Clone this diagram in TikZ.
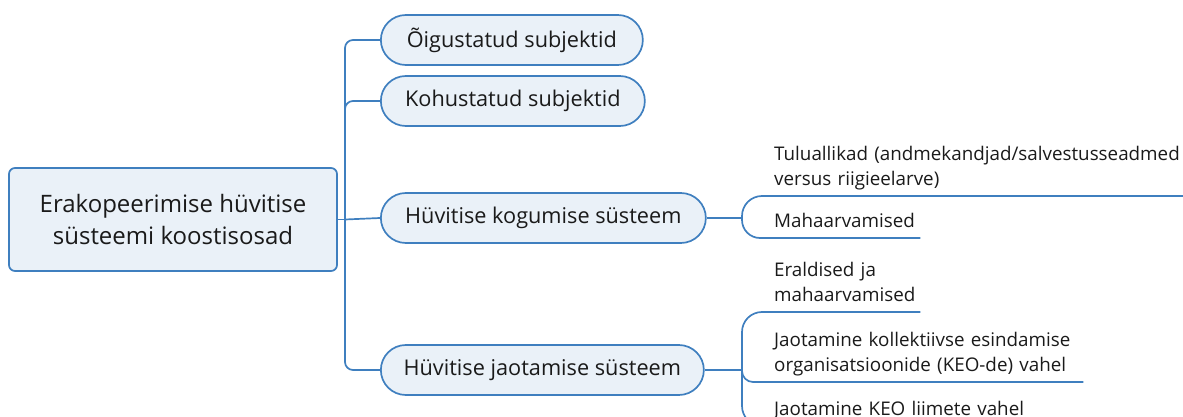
\documentclass[tikz,border=0pt]{standalone}
\usepackage{fontspec}
\setmainfont{Open Sans}
\usetikzlibrary{shapes.misc}
\definecolor{lineblue}{HTML}{3F7FBF}
\definecolor{fillblue}{HTML}{EAF1F8}
\definecolor{txt}{HTML}{1A1A1A}
\begin{document}
\begin{tikzpicture}[x=1pt,y=-1pt,
 rootbox/.style={draw=lineblue, fill=fillblue, line width=1.7pt, rounded corners=6pt, minimum width=328pt, minimum height=103pt, align=center, font=\fontsize{24}{32}\selectfont, text=txt},
 pill/.style={draw=lineblue, fill=fillblue, line width=1.7pt, rounded rectangle, minimum height=50pt, inner xsep=4pt, font=\fontsize{21.7}{26}\selectfont, text=txt, anchor=west},
 leaf/.style={anchor=south west, inner xsep=4pt, inner ysep=2.5pt, align=left, font=\fontsize{18.8}{25}\selectfont, text=txt},
 conn/.style={draw=lineblue, line width=1.7pt},
]
\useasboundingbox (0,0) rectangle (1183,417);
\clip (0,0) rectangle (1183,417);

\node[rootbox] (root) at (173,219.5) {Erakopeerimise hüvitise\\süsteemi koostisosad};

\node[pill, minimum width=270pt] (c1) at (380,40) {Õigustatud subjektid};
\node[pill, minimum width=272pt] (c2) at (380,101) {Kohustatud subjektid};
\node[pill, minimum width=333pt] (c3) at (380,218) {Hüvitise kogumise süsteem};
\node[pill, minimum width=331pt] (c4) at (380,370) {Hüvitise jaotamise süsteem};

\node[leaf, text width=440pt] (l1) at (770,196) {Tuluallikad (andmekandjad/salvestusseadmed\\versus riigieelarve)\strut};
\node[leaf, text width=142pt] (l2) at (770,238) {Mahaarvamised\strut};
\node[leaf, text width=142pt] (l3) at (770,312) {Eraldised ja\\mahaarvamised\strut};
\node[leaf, text width=305pt] (l4) at (770,382) {Jaotamine kollektiivse esindamise\\organisatsioonide (KEO-de) vahel\strut};
\node[leaf, text width=300pt] (l5) at (770,426) {Jaotamine KEO liimete vahel\strut};

\coordinate (tr) at (345,219.5);
\coordinate (b3) at (742,218);
\coordinate (b4) at (742,370);

\draw[conn] (root.east) -- (tr);
\draw[conn, rounded corners=8pt] (c1.west) -| (tr) |- (c4.west);
\draw[conn, rounded corners=8pt] (tr) |- (c2.west);
\draw[conn] (tr) -- (c3.west);

\draw[conn] (c3.east) -- (b3);
\draw[conn, rounded corners=20pt] (b3) |- (l1.south east);
\draw[conn, rounded corners=18pt] (b3) |- (l2.south east);

\draw[conn] (c4.east) -- (b4);
\draw[conn, rounded corners=20pt] (b4) |- (l3.south east);
\draw[conn, rounded corners=11pt] (b4) |- (l4.south east);
\draw[conn, rounded corners=20pt] (b4) |- (l5.south east);
\end{tikzpicture}
\end{document}
